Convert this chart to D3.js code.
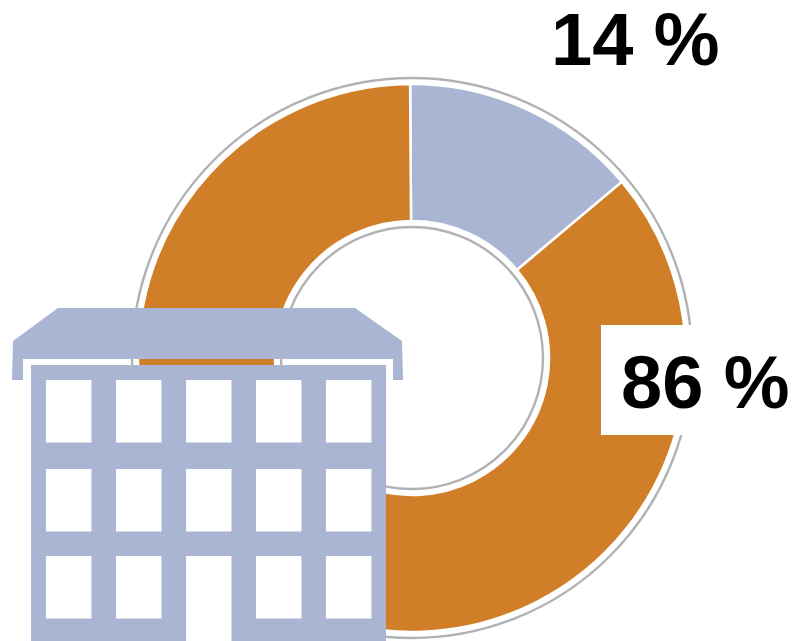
<!DOCTYPE html>
<html>
<head>
<meta charset="utf-8">
<style>
html,body{margin:0;padding:0;background:#fff;overflow:hidden}
svg{display:block}
text{font-family:"Liberation Sans",Arial,sans-serif;font-weight:700;fill:#000}
</style>
<script src="https://cdn.jsdelivr.net/npm/d3@7/dist/d3.min.js"></script>
</head>
<body>
<svg id="chart" width="795" height="641"></svg>
<script>
// Share of each segment, clockwise from twelve o'clock
const segments = ["Blue", "Orange"];
const shares = [14, 86];
const shareLabels = ["14 %", "86 %"];
const segmentColors = ["#A9B5D3", "#D07E28"];

const svg = d3.select("#chart");
const cx = 412, cy = 358;
const outerR = 274, innerR = 137;
const outerRing = 280, innerRing = 131;
const tilt = -0.4 * Math.PI / 180;

const pie = d3.pie().sort(null).value(d => d)
  .startAngle(tilt).endAngle(2 * Math.PI + tilt);
const arc = d3.arc().innerRadius(innerR).outerRadius(outerR);

const donut = svg.append("g").attr("transform", `translate(${cx},${cy})`);

// Thin grey rings either side of the band
donut.selectAll("circle.ring").data([outerRing, innerRing]).join("circle")
  .attr("class", "ring")
  .attr("r", d => d)
  .attr("fill", "none")
  .attr("stroke", "#B0B2B4")
  .attr("stroke-width", 2.4);

donut.selectAll("path.slice").data(pie(shares)).join("path")
  .attr("class", "slice")
  .attr("d", arc)
  .attr("fill", (d, i) => segmentColors[i])
  .attr("stroke", "#fff")
  .attr("stroke-width", 2.5)
  .attr("stroke-linejoin", "miter");

// White plate behind the larger share's label
svg.append("rect")
  .attr("x", 601).attr("y", 325)
  .attr("width", 194).attr("height", 110)
  .attr("fill", "#fff");

// Percentage labels
const labelAnchors = [[551, 65], [621, 408]];
svg.selectAll("text.share").data(shareLabels).join("text")
  .attr("class", "share")
  .attr("x", (d, i) => labelAnchors[i][0])
  .attr("y", (d, i) => labelAnchors[i][1])
  .attr("font-size", 74)
  .text(d => d);

// Building pictogram in front of the donut
const blue = segmentColors[0];
const building = svg.append("g");
const roofOutline = [[58,308],[355,308],[402,341],[403,380],[393,380],[393,359],[23,359],[23,380],[12,380],[13,341]];

building.append("path")
  .attr("d", d3.line()(roofOutline) + "Z")
  .attr("fill", blue);

building.append("rect")
  .attr("x", 31).attr("y", 365)
  .attr("width", 355).attr("height", 276)
  .attr("fill", blue);

const windowLefts = [46, 116, 186, 256, 326];
const windowTops = [380, 469, 556];
const windowW = 45.5, windowH = 62.5;

windowTops.forEach((top, row) => {
  building.selectAll(`rect.win${row}`).data(windowLefts).join("rect")
    .attr("class", `win${row}`)
    .attr("x", d => d)
    .attr("y", top)
    .attr("width", windowW)
    // The middle opening on the ground floor is the door, running to the ground
    .attr("height", (d, i) => (row === 2 && i === 2) ? 641 - top : windowH)
    .attr("fill", "#fff");
});
</script>
</body>
</html>
